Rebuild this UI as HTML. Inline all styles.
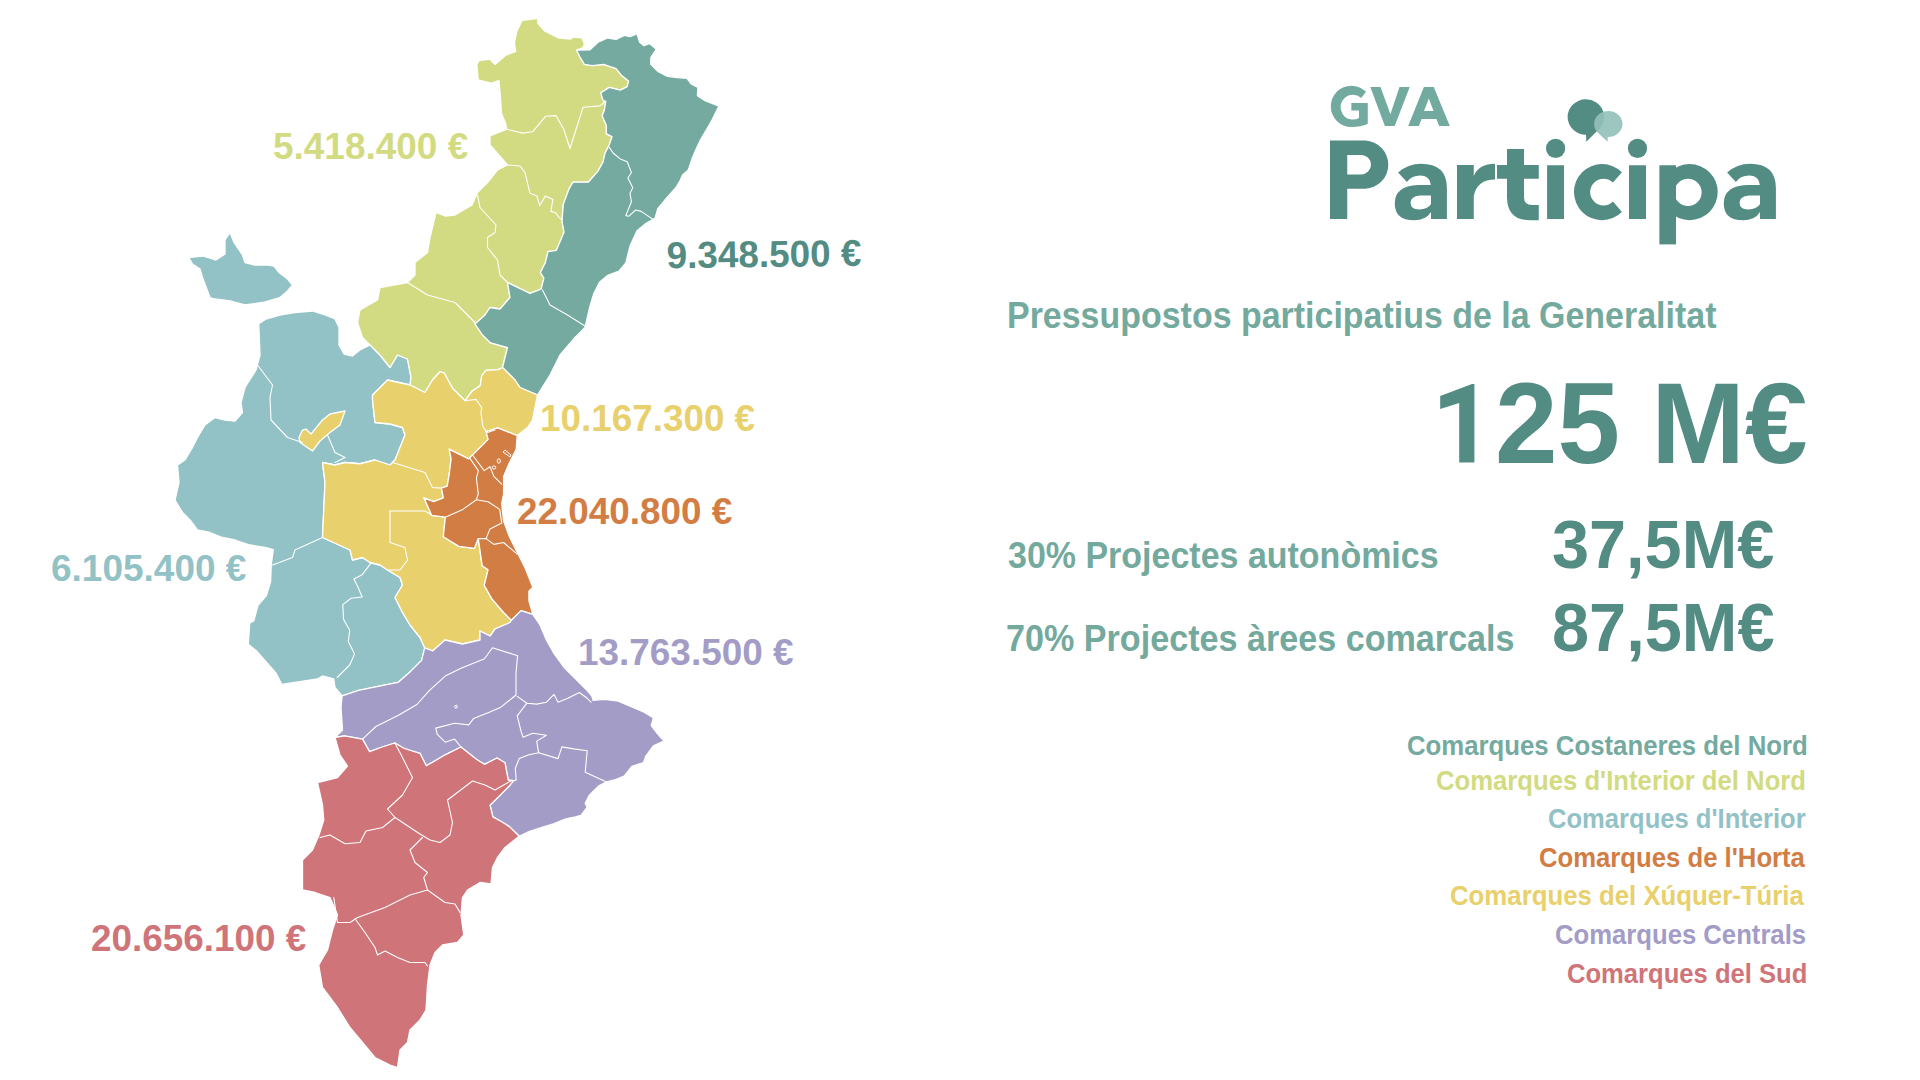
<!DOCTYPE html>
<html><head><meta charset="utf-8"><style>
html,body{margin:0;padding:0;background:#fff;width:1920px;height:1080px;overflow:hidden;position:relative}
.map{position:absolute;left:0;top:0}
.t{position:absolute;white-space:nowrap;font-family:"Liberation Sans",sans-serif;font-weight:bold;line-height:1;transform-origin:0 0}
</style></head><body>
<svg class="map" width="1920" height="1080" viewBox="0 0 1920 1080"><polygon points="188.75,257.5 202.5,256 212.5,259 216,260 225,254 225,240 230,232.5 234,242.5 242.5,255 245,262.5 255,265 267.5,265 274,266 279,272.5 287.5,279 292.5,285 287.5,291 280,297.5 262.5,302.5 245,305 230,301 215,299 210,297.5 202.5,277.5 200,269 192.5,264" fill="#92c2c6" stroke="#fff" stroke-width="1.3" stroke-linejoin="round"/><polygon points="258.75,323.75 266,319 280,315 295,312.5 312.5,311 325,315 335,319 339,327.5 339,345 344,354 352.5,356 360,350 370,345 380,355 390,367.5 397.5,355 407.5,359 411,377.5 410,385 387.5,380 372.5,395 372.5,400 375,422.5 390,424 402.5,427.5 405,435 400,447.5 395,460 390,465 375,460 360,463.75 345,462.5 335,465 322.5,462.5 325,482.5 323.75,510 322.5,537.5 350,550 352.5,560 362.5,557.5 370,562.5 380,565 387.5,570 400,577.5 402.5,585 395,597.5 402.5,612.5 410,625 420,637.5 424.7,647.8 421.6,660.4 410.6,671.4 398,682.4 374.4,687.1 358.6,690.3 342.1,695.8 335,687.5 333.75,679 322.5,676 317.5,679 281.7,684.4 276.1,673.3 266.4,662.2 256.7,651.1 248.3,644.2 249.7,623.3 253.9,620.6 258,605.3 266.4,595.6 270.6,581.7 271.25,565 273.3,549.7 265,547.5 250,545 235,540 222.5,537.5 210,532.5 197.5,530 190,520 182.5,512.5 175,500 179,482.5 177.5,465 185,460 192.5,447.5 197.5,437.5 205,425 215,417.5 225,420 235,421 242.5,412.5 241,402.5 245,387.5 256,370 260,355" fill="#92c2c6" stroke="#fff" stroke-width="1.3" stroke-linejoin="round"/><polygon points="299,437.5 302.5,430 306,429 311,434 322.5,420 330,414 345,411 340,425 330,432.5 320,441 312.5,451 300,442.5" fill="#e8d06c" stroke="#fff" stroke-width="1.3" stroke-linejoin="round"/><polygon points="522,20.4 537.8,18.4 537.8,23 544.2,30.7 558.5,37.9 570.2,39.2 572.8,37.2 581.8,37.9 584.4,43.7 583.1,47.6 576.6,50.2 580,57 584.4,64.4 592.2,65.7 603.6,64.4 616.1,68.6 621.7,75.6 628.6,81.1 627.2,86.7 620.3,90.1 609.2,87.4 600.8,92.9 602.9,99.9 605.7,102 604.3,110.3 602.2,115.8 606.4,125.6 606.4,133.9 612,136.7 609.2,145 605,153.3 603,162 598,171.1 588.3,182.2 573,182.2 568.9,189.2 563.3,204.4 562,221.1 564,232.2 556.4,250.3 548,251.7 545.3,262.8 540.4,272.5 543.9,278.1 541.1,289.2 530,293.3 507.5,282.5 510,297.5 500,309 490,307.5 485,315 475,324 482.5,335 490,342.5 507.5,347.5 502.5,367.5 498.3,369.6 485.8,370.3 481.7,375.8 480.3,385.6 472,391.1 465,400.8 452.5,388.3 444.2,373 440,371.7 432.5,380 425,392.5 410,385 411,377.5 407.5,359 397.5,355 390,367.5 380,355 370,345 362.5,337.5 357.5,322.5 360,310 377.5,300 380,287.5 407.5,282.5 415,275 415,262.5 427.5,252.5 430,237.5 436,212.5 445,216 455,215 472,205 477.5,192.5 487.5,182.5 497.5,170 507.5,165 490,145 490,136 506.7,129.2 505.4,122.7 501.5,113.7 500.2,94.2 498.9,80.6 491.1,83.2 478.1,80 476.8,64.4 479.4,60.5 489.8,59.2 495,64.4 505.4,55.4 515.7,51.5 514.4,42.4 517,30.7" fill="#d3db82" stroke="#fff" stroke-width="1.3" stroke-linejoin="round"/><polygon points="576.6,50.2 589.7,49.9 598,42.2 607.8,38 616.1,39.4 624.4,35.3 630,36.7 637,33.9 639.7,42.2 643.9,45.7 649.4,43.6 656.4,49.2 650.8,57.5 650.8,64.4 657.8,71.4 667.5,76.3 677.2,77.6 687,78.3 691.1,83.9 698,87.4 697.4,95.7 705,100.6 718.9,106.1 712,120 706.4,129.7 700.8,139.4 696.7,147.8 692.5,157.5 688.3,170 682.5,175 680,180.8 675.8,187.8 664.7,200.3 657.8,208.6 655,218.3 645.3,223.9 637,230.8 630,246.1 625.8,262.8 618.9,271.1 607.8,275.3 599.5,282.2 593.9,293.3 589.7,307.2 585,327.5 575,337.5 560,355 550,375 537.5,395 520,387.5 515,380 502.5,367.5 507.5,347.5 490,342.5 482.5,335 475,324 485,315 490,307.5 500,309 510,297.5 507.5,282.5 530,293.3 541.1,289.2 543.9,278.1 540.4,272.5 545.3,262.8 548,251.7 556.4,250.3 564,232.2 562,221.1 563.3,204.4 568.9,189.2 573,182.2 588.3,182.2 598,171.1 603,162 605,153.3 609.2,145 612,136.7 606.4,133.9 606.4,125.6 602.2,115.8 604.3,110.3 605.7,102 602.9,99.9 600.8,92.9 609.2,87.4 620.3,90.1 627.2,86.7 628.6,81.1 621.7,75.6 616.1,68.6 603.6,64.4 592.2,65.7 584.4,64.4 580,57" fill="#74aaa0" stroke="#fff" stroke-width="1.3" stroke-linejoin="round"/><polygon points="502.5,367.5 515,380 520,387.5 537.5,395 532.5,420 527.5,427.5 517.2,435.6 497.8,427.8 486.1,431.7 488.1,439.4 478.3,449.2 468.6,458.9 455,452.1 449.2,449.2 451.1,458.9 449.2,474.4 447.2,486.1 441.4,488.1 443.3,497.8 433.6,501.7 423.9,497.8 431.7,515.3 445.3,517.2 443.3,536.7 458.9,546.4 474.4,548.3 478.3,538.6 482.2,565.8 488.1,569.7 484.2,585.3 491.9,598.9 503.6,612.5 511.4,620.3 510,622.5 495,629 490,636 480,631 480,640 462.5,644 445,640 432.6,650.9 424.7,647.8 420,637.5 410,625 402.5,612.5 395,597.5 402.5,585 400,577.5 387.5,570 380,565 370,562.5 362.5,557.5 352.5,560 350,550 322.5,537.5 323.75,510 325,482.5 322.5,462.5 335,465 345,462.5 360,463.75 375,460 390,465 395,460 400,447.5 405,435 402.5,427.5 390,424 375,422.5 372.5,400 372.5,395 387.5,380 410,385 425,392.5 432.5,380 440,371.7 444.2,373 452.5,388.3 465,400.8 472,391.1 480.3,385.6 481.7,375.8 485.8,370.3 498.3,369.6" fill="#e8d06c" stroke="#fff" stroke-width="1.3" stroke-linejoin="round"/><polygon points="486.1,431.7 497.8,427.8 517.2,435.6 516.2,449.2 509.4,462.8 503.6,476.4 503.6,493.9 501.7,503.6 503.6,521.1 509.4,536.7 517.2,552.2 525,567.8 532.8,587.2 528.9,591.1 528.9,600.8 532.8,614.4 521.1,610.6 511.4,620.3 503.6,612.5 491.9,598.9 484.2,585.3 488.1,569.7 482.2,565.8 478.3,538.6 474.4,548.3 458.9,546.4 443.3,536.7 445.3,517.2 431.7,515.3 423.9,497.8 433.6,501.7 443.3,497.8 441.4,488.1 447.2,486.1 449.2,474.4 451.1,458.9 449.2,449.2 455,452.1 468.6,458.9 478.3,449.2 488.1,439.4" fill="#d27d44" stroke="#fff" stroke-width="1.3" stroke-linejoin="round"/><polygon points="342.1,695.8 358.6,690.3 374.4,687.1 398,682.4 410.6,671.4 421.6,660.4 424.7,647.8 432.6,650.9 445,640 462.5,644 480,640 480,631 490,636 495,629 510,622.5 511.4,620.3 521.1,610.6 532.8,614.4 540,625 546.4,640 554.1,653.6 563.9,667.2 575.5,678.9 587.2,690.5 592,696.4 593,700.3 604.7,699.3 618.3,701.2 630,706.1 643.6,711.9 653.3,717.8 651.3,725.5 657.2,733.3 664,741.1 653.3,745.9 645.5,756.6 643.6,762.5 631.9,766.3 624.1,776.1 614.4,780 606.6,781.9 598.9,785.8 589.1,795.5 585.2,803.3 587.2,807.2 581.4,815 575.5,816.9 565.8,818.8 554.1,823.7 544.4,826.6 528.9,831.5 519.2,836.3 509.4,826.6 501.7,821.7 492.9,816.9 490,805.2 501.7,793.6 509.4,785.8 513.3,780.9 508.2,780 505,762.7 497.1,758 484.5,764.3 476.7,759.5 460.9,747 445.2,754.8 437.3,759.5 426.3,765.8 420,753.3 404.3,748.5 394.8,743 382.2,747 369.6,751.7 362.5,739.1 344.4,735.9 335,737.5 342.5,730 341,707.5" fill="#a39cc6" stroke="#fff" stroke-width="1.3" stroke-linejoin="round"/><polygon points="344.4,735.9 362.5,739.1 369.6,751.7 382.2,747 394.8,743 404.3,748.5 420,753.3 426.3,765.8 437.3,759.5 445.2,754.8 460.9,747 476.7,759.5 484.5,764.3 497.1,758 505,762.7 508.2,780 513.3,780.9 509.4,785.8 501.7,793.6 490,805.2 492.9,816.9 501.7,821.7 509.4,826.6 519.2,836.3 505,847.5 497.5,857.5 492.5,867.5 491,884 480,882.5 467.5,890 462.5,897.5 461,915 463.75,935 457.5,942.5 442.5,945 435,952.5 430,965 427.5,985 426,1010 420,1020 410,1030 407.5,1042.5 400,1050 397.5,1067.5 390,1065 375,1057.5 362.5,1042.5 350,1027.5 337.5,1007.5 322.5,987.5 318.75,965 327.5,950 332.5,930 337.5,915 330,897.5 315,892.5 302.5,890 302.5,860 312.5,850 319,835 323.75,820 322.5,805 317.5,782.5 337.5,777.5 347.5,766 340,755 335,737.5" fill="#cf7579" stroke="#fff" stroke-width="1.3" stroke-linejoin="round"/><polyline points="608.5,146.4 613.3,153.3 620.3,158.9 627.2,161.7 631.4,172.5 627.9,178 632.8,187.8 630,193.3 631.4,201.7 625.8,215.6 628.6,216.3 635.6,210 641.1,211.4 653.6,219.7" fill="none" stroke="#fff" stroke-width="1.1" stroke-linejoin="round" stroke-linecap="round"/><polyline points="542.5,290 550,305 567.5,315 585,326" fill="none" stroke="#fff" stroke-width="1.1" stroke-linejoin="round" stroke-linecap="round"/><polyline points="506.7,129.2 522.2,133.1 532.6,131.8 545.5,116.3 555.9,115.6 563.7,129.2 570,148.5 583.1,107.2 600,105.9 606,101" fill="none" stroke="#fff" stroke-width="1.1" stroke-linejoin="round" stroke-linecap="round"/><polyline points="507.5,165 520,166 525,172.5 530,193.3 537,196.1 539.7,205.8 545.3,196.1 552.9,199.6 550.8,211.4 555.7,212.8 559.2,217.6 562,219.7" fill="none" stroke="#fff" stroke-width="1.1" stroke-linejoin="round" stroke-linecap="round"/><polyline points="477.5,195 480,207.5 496,225 495,232.5 487.5,237.5 487.5,247.5 497.5,260 500,275 507.5,282.5" fill="none" stroke="#fff" stroke-width="1.1" stroke-linejoin="round" stroke-linecap="round"/><polyline points="407.5,282.5 427.5,295 455,302.5 475,322.5" fill="none" stroke="#fff" stroke-width="1.1" stroke-linejoin="round" stroke-linecap="round"/><polyline points="257.5,365 272.5,385 270,397.5 271,420 287.5,437.5 302.5,442.5" fill="none" stroke="#fff" stroke-width="1.1" stroke-linejoin="round" stroke-linecap="round"/><polyline points="327.5,435 335,452.5 345,457.5 335,462.5" fill="none" stroke="#fff" stroke-width="1.1" stroke-linejoin="round" stroke-linecap="round"/><polyline points="322.5,537.5 295,550 292.5,557.5 272.5,565" fill="none" stroke="#fff" stroke-width="1.1" stroke-linejoin="round" stroke-linecap="round"/><polyline points="370.6,563.6 362.2,574.7 353.9,578.9 358,587.2 362.2,597 351.1,598.3 342.8,604.6 343.5,619.2 349.7,630.3 348.3,641.4 354.6,653.9 349.7,665 337.2,677.5" fill="none" stroke="#fff" stroke-width="1.1" stroke-linejoin="round" stroke-linecap="round"/><polyline points="390,511 425,511 431.7,515.3" fill="none" stroke="#fff" stroke-width="1.1" stroke-linejoin="round" stroke-linecap="round"/><polyline points="390,511 390,542.5 405,547.5 407.5,560 400,570 387.5,570" fill="none" stroke="#fff" stroke-width="1.1" stroke-linejoin="round" stroke-linecap="round"/><polyline points="392.5,462.5 425,472.5 432.5,487.5 441.4,488.1" fill="none" stroke="#fff" stroke-width="1.1" stroke-linejoin="round" stroke-linecap="round"/><polyline points="465,400.8 476.1,399.4 481.7,407.8 481,413.3 483,427.2 487.5,432.5 495,430" fill="none" stroke="#fff" stroke-width="1.1" stroke-linejoin="round" stroke-linecap="round"/><polyline points="469.6,457.9 478.3,470.6 476.4,478.3 478.3,493.9 476.4,499.7 462.8,509.4 445.3,517.2" fill="none" stroke="#fff" stroke-width="1.1" stroke-linejoin="round" stroke-linecap="round"/><polyline points="476.4,499.7 488.1,501.7 499.7,509.4 501.7,523.1 490,528.9 486.1,538.6 493.9,544.4 503.6,542.5 517.2,554.2" fill="none" stroke="#fff" stroke-width="1.1" stroke-linejoin="round" stroke-linecap="round"/><polyline points="478.3,538.6 486.1,538.6" fill="none" stroke="#fff" stroke-width="1.1" stroke-linejoin="round" stroke-linecap="round"/><polyline points="472.5,455 484.2,470.6 490,466.7 493.9,476.4 501.7,484.2" fill="none" stroke="#fff" stroke-width="1.1" stroke-linejoin="round" stroke-linecap="round"/><polyline points="362.5,739.1 375.9,726.5 398,715.5 416.9,704.5 429.5,690.3 445.2,676.1 461,668.2 484.5,658.8 492.4,647.8 517.6,655.7 516,673 516,695 500.3,707.6 489.3,712.3 473.5,718.6 468.8,724.9 454.6,723.3 435.7,728.1 437.3,734.4 445.2,742.2 454.6,739.1 460.9,747" fill="none" stroke="#fff" stroke-width="1.1" stroke-linejoin="round" stroke-linecap="round"/><polyline points="517.2,696.4 526.9,703.2 536.7,704.1 546.4,702.2 554.1,694.4 558,702.2 567.8,698.3 579.4,692.5 587.2,698.3 591.1,702.2" fill="none" stroke="#fff" stroke-width="1.1" stroke-linejoin="round" stroke-linecap="round"/><polyline points="526.9,703.2 517.2,715.8 521.1,731.4 523,737.2 532.8,733.3 546.4,735.2 536.7,741.1 538.6,752.7 558,758.6 561.9,746.9 573.6,748.9 587.2,750.8 585.2,772.2 606.6,781.9" fill="none" stroke="#fff" stroke-width="1.1" stroke-linejoin="round" stroke-linecap="round"/><polyline points="538.6,752.7 528.9,754.7 519.2,758.6 515.3,768.3 516.2,780 513.3,780.9" fill="none" stroke="#fff" stroke-width="1.1" stroke-linejoin="round" stroke-linecap="round"/><polyline points="394.8,743 401.1,754.8 412.5,777.5 402.5,795 387.5,809 395,817.5 420,834 430,840 440,842.5 450,835 452.5,822.5 447.5,800 472.5,781 485,785 495,790 512.5,780" fill="none" stroke="#fff" stroke-width="1.1" stroke-linejoin="round" stroke-linecap="round"/><polyline points="395,817.5 382.5,827.5 366,831 360,842.5 345,843.75 330,835 320,837.5" fill="none" stroke="#fff" stroke-width="1.1" stroke-linejoin="round" stroke-linecap="round"/><polyline points="422.5,837.5 410,850 415,862.5 427.5,872.5 423.75,877.5 427.5,890 410,895 385,907.5 357.5,917.5 350,922.5 337.5,922.5 333.75,897.5" fill="none" stroke="#fff" stroke-width="1.1" stroke-linejoin="round" stroke-linecap="round"/><polyline points="427.5,890 445,902.5 455,904 460,912.5" fill="none" stroke="#fff" stroke-width="1.1" stroke-linejoin="round" stroke-linecap="round"/><polyline points="355,918.75 365,932.5 375,947.5 377.5,955 385,951 397.5,957.5 410,962.5 425,962.5 427.5,966" fill="none" stroke="#fff" stroke-width="1.1" stroke-linejoin="round" stroke-linecap="round"/><g fill="none" stroke="#fff" stroke-width="1"><ellipse cx="498.8" cy="461" rx="1.6" ry="2.2"/><ellipse cx="494" cy="467.5" rx="1.8" ry="1.6"/><path d="M503,452 L510,457 L511,455 L505,450 Z"/><path d="M454.5,706 l2,-1 l1,2.5 l-2,0.8 Z"/></g></svg>
<div class="t m" id="l1" style="left:272.64px;top:128.05px;font-size:37.5px;color:#d3db82;transform:scaleX(0.9854);transform-origin:0 0;letter-spacing:0px">5.418.400 €</div><div class="t m" id="l2" style="left:664.51px;top:236.35px;font-size:37.5px;color:#538c82;transform:scaleX(0.9830) rotate(-0.66deg);transform-origin:50% 50%;letter-spacing:0px">9.348.500 €</div><div class="t m" id="l3" style="left:540.41px;top:400.05px;font-size:37.5px;color:#e8d06c;transform:scaleX(0.9824);transform-origin:0 0;letter-spacing:0px">10.167.300 €</div><div class="t m" id="l4" style="left:517.01px;top:492.65px;font-size:37.5px;color:#d27d44;transform:scaleX(0.9833);transform-origin:0 0;letter-spacing:0px">22.040.800 €</div><div class="t m" id="l5" style="left:51.21px;top:549.65px;font-size:37.5px;color:#92c2c6;transform:scaleX(0.9866);transform-origin:0 0;letter-spacing:0px">6.105.400 €</div><div class="t m" id="l6" style="left:578.20px;top:633.75px;font-size:37.5px;color:#a39cc6;transform:scaleX(0.9843);transform-origin:0 0;letter-spacing:0px">13.763.500 €</div><div class="t m" id="l7" style="left:91.21px;top:919.85px;font-size:37.5px;color:#cf7579;transform:scaleX(0.9828);transform-origin:0 0;letter-spacing:0px">20.656.100 €</div><div class="t m" id="h1" style="left:1007.49px;top:298.26px;font-size:36.6px;color:#74a99e;transform:scaleX(0.9282);transform-origin:0 0;letter-spacing:0px">Pressupostos participatius de la Generalitat</div><div class="t m" id="h2" style="left:1495.06px;top:366.33px;font-size:115.0px;color:#538c82;transform:scaleX(0.9779);transform-origin:0 0;letter-spacing:0px">25 M€</div><div class="t m" id="p1" style="left:1007.55px;top:537.51px;font-size:36.6px;color:#74a99e;transform:scaleX(0.9290);transform-origin:0 0;letter-spacing:0px">30% Projectes autonòmics</div><div class="t m" id="v1" style="left:1551.83px;top:510.18px;font-size:69.0px;color:#538c82;transform:scaleX(0.9655);transform-origin:0 0;letter-spacing:0px">37,5M€</div><div class="t m" id="p2" style="left:1006.46px;top:621.01px;font-size:36.6px;color:#74a99e;transform:scaleX(0.9332);transform-origin:0 0;letter-spacing:0px">70% Projectes àrees comarcals</div><div class="t m" id="v2" style="left:1551.50px;top:593.38px;font-size:69.0px;color:#538c82;transform:scaleX(0.9669);transform-origin:0 0;letter-spacing:0px">87,5M€</div><div class="t m" id="g1" style="left:1406.57px;top:731.89px;font-size:27.3px;color:#74aaa0;transform:scaleX(0.9435);transform-origin:0 0;letter-spacing:0px">Comarques Costaneres del Nord</div><div class="t m" id="g2" style="left:1435.67px;top:767.19px;font-size:27.3px;color:#d3db82;transform:scaleX(0.9409);transform-origin:0 0;letter-spacing:0px">Comarques d'Interior del Nord</div><div class="t m" id="g3" style="left:1547.68px;top:804.69px;font-size:27.3px;color:#92c2c6;transform:scaleX(0.9370);transform-origin:0 0;letter-spacing:0px">Comarques d'Interior</div><div class="t m" id="g4" style="left:1538.97px;top:844.19px;font-size:27.3px;color:#d27d44;transform:scaleX(0.9411);transform-origin:0 0;letter-spacing:0px">Comarques de l'Horta</div><div class="t m" id="g5" style="left:1449.97px;top:882.29px;font-size:27.3px;color:#e8d06c;transform:scaleX(0.9445);transform-origin:0 0;letter-spacing:0px">Comarques del Xúquer-Túria</div><div class="t m" id="g6" style="left:1555.47px;top:920.69px;font-size:27.3px;color:#a39cc6;transform:scaleX(0.9403);transform-origin:0 0;letter-spacing:0px">Comarques Centrals</div><div class="t m" id="g7" style="left:1567.38px;top:960.09px;font-size:27.3px;color:#cf7579;transform:scaleX(0.9374);transform-origin:0 0;letter-spacing:0px">Comarques del Sud</div>
<svg style="position:absolute;left:0;top:0" width="1920" height="1080" viewBox="0 0 1920 1080">
<g fill="#72aa9f">
<path d="M1366,91.8 A20.6,20.6 0 0 0 1330.8,106.4 A20.6,20.6 0 0 0 1351.4,127 Q1361,127 1367.8,123.8 V103.1 H1351.35 V110.6 H1359 V118 A12.4,12.4 0 1 1 1361.2,97.9 Z"/>
<path d="M1370.3,86.9 H1380.5 L1390.4,114.3 L1399.5,86.9 H1409.7 L1394.7,126 H1384.9 Z"/>
<path fill-rule="evenodd" d="M1423.9,86.9 H1433.75 L1449.8,126 H1439.2 L1436.4,119 H1421.6 L1418.8,126 H1408.2 Z M1428.8,98.6 L1433.6,111 H1424 Z"/>
</g>
<g fill="#538c82">
<path fill-rule="evenodd" d="M1330,140.6 H1365.3 A24.1,24.1 0 0 1 1365.3,188.75 H1347.25 V219 H1330 Z M1347.25,155 H1361.3 A9.7,9.7 0 0 1 1361.3,174.4 H1347.25 Z"/>
<g>
<path d="M1398.1,172.5 Q1408,163.75 1421,163.75 Q1446.9,163.75 1446.9,188 V219 H1431 V188 Q1431,175.6 1420,175.6 Q1412,175.6 1406.9,181.9 Z"/>
<path fill-rule="evenodd" d="M1431,185 H1418 Q1394.75,186 1394.75,203.5 Q1394.75,220.25 1414,220.25 Q1426,220.25 1431,212 Z M1431,195.6 H1420 Q1410.6,196.5 1410.6,202.8 Q1410.6,209.4 1419,209.4 Q1428,209.4 1431,204 Z"/>
</g>
<path d="M1457,165 H1473.75 V219 H1457 Z M1473.75,176 Q1479,163.75 1495,163.75 V179.4 Q1477,179.4 1473.75,196 Z"/>
<path d="M1507,149 H1524 V197 Q1524,205 1532,205 H1538.75 V220.25 H1530 Q1507,220.25 1507,197 Z"/>
<rect x="1497" y="165" width="41.75" height="13.75"/>
<rect x="1547.1" y="165.25" width="16.9" height="53.75"/>
<circle cx="1555.6" cy="148.4" r="9.6"/>
<path d="M1621.9,172.2 A28.1,28.1 0 1 0 1621.9,212 L1613,201.6 A13.4,13.4 0 1 1 1613,182.6 Z"/>
<rect x="1629" y="165.25" width="17" height="53.75"/>
<circle cx="1637.5" cy="148.4" r="9.6"/>
<rect x="1659.4" y="165.25" width="16.6" height="79.15"/>
<path fill-rule="evenodd" d="M1689.6,164 A28.1,28.1 0 1 1 1689.6,220.2 A28.1,28.1 0 1 1 1689.6,164 Z M1688,178.8 A13.6,13.6 0 1 0 1688,206 A13.6,13.6 0 1 0 1688,178.8 Z"/>
<g transform="translate(329,0)">
<path d="M1398.1,172.5 Q1408,163.75 1421,163.75 Q1446.9,163.75 1446.9,188 V219 H1431 V188 Q1431,175.6 1420,175.6 Q1412,175.6 1406.9,181.9 Z"/>
<path fill-rule="evenodd" d="M1431,185 H1418 Q1394.75,186 1394.75,203.5 Q1394.75,220.25 1414,220.25 Q1426,220.25 1431,212 Z M1431,195.6 H1420 Q1410.6,196.5 1410.6,202.8 Q1410.6,209.4 1419,209.4 Q1428,209.4 1431,204 Z"/>
</g>
</g>
<path d="M1585.8,99.3 A18.3,17.7 0 1 0 1586,134.7 L1586.3,141.8 L1597.6,130.6 A18.3,17.7 0 0 0 1585.8,99.3 Z" fill="#538c82"/>
<path d="M1608.5,111 A14.4,13 0 1 1 1607.7,137 L1607.7,141.8 L1599.2,134 A14.4,13 0 0 1 1608.5,111 Z" fill="#93c0ba" fill-opacity="0.91"/>
<path d="M1440.2,396 L1472,383.9 H1474.4 V462.6 H1459.2 V402.9 L1440.2,408.9 Z" fill="#538c82"/>
</svg>

</body></html>
